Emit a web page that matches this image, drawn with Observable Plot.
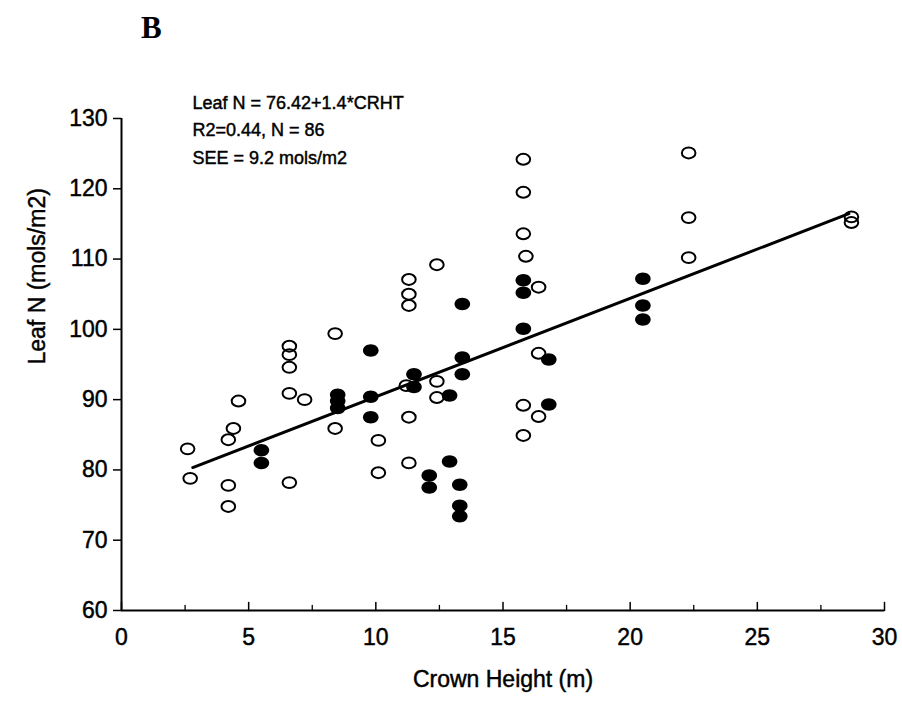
<!DOCTYPE html>
<html>
<head>
<meta charset="utf-8">
<script src="https://cdn.jsdelivr.net/npm/d3@7"></script>
<script src="https://cdn.jsdelivr.net/npm/@observablehq/plot@0.6"></script>
<style>
  html, body { margin: 0; padding: 0; background: #fff; }
  #wrap { position: relative; width: 902px; height: 702px; }
  #panel { position: absolute; left: 141px; top: 10px; font-family: "Liberation Serif", "DejaVu Serif", serif; font-weight: bold; font-size: 31px; color: #000; }
  svg { display: block; }
  svg text { stroke: #000; stroke-width: 0.45px; }
</style>
</head>
<body>
<div id="wrap">
  <div id="panel">B</div>
</div>
<script>
// Open circles: crown height (m) and leaf N (mols/m2)
const openX = [2.7, 2.6, 4.2, 4.2, 4.6, 4.4, 4.2, 6.6, 6.6, 6.6, 6.6, 6.6, 7.2, 8.4, 8.4, 10.1, 10.1,
  11.3, 11.3, 11.3, 11.2, 11.3, 11.3, 12.4, 12.4, 12.4, 15.8, 15.8, 15.8, 15.9, 16.4, 16.4, 15.8, 16.4, 15.8,
  22.3, 22.3, 22.3, 28.7, 28.7];
const openY = [78.8, 83.0, 77.8, 74.8, 89.8, 85.9, 84.3, 78.2, 97.6, 96.4, 94.6, 90.9, 90.0, 99.4, 85.9, 84.2, 79.6,
  107.1, 105.0, 103.4, 92.0, 87.5, 81.0, 109.2, 92.6, 90.3, 124.2, 119.5, 113.6, 110.4, 106.0, 96.6, 89.2, 87.6, 84.9,
  125.1, 115.9, 110.2, 116.0, 115.2];
// Solid circles
const solidX = [5.5, 5.5, 8.5, 8.5, 8.5, 9.8, 9.8, 9.8, 11.5, 11.5, 12.9, 12.9, 12.1, 12.1,
  13.4, 13.4, 13.4, 13.3, 13.3, 13.3, 15.8, 15.8, 15.8, 16.8, 16.8, 20.5, 20.5, 20.5];
const solidY = [82.8, 81.0, 90.7, 89.8, 88.8, 97.0, 90.4, 87.5, 93.6, 91.8, 90.6, 81.2, 79.2, 77.5,
  103.6, 96.0, 93.6, 77.9, 74.9, 73.4, 107.0, 105.2, 100.1, 95.7, 89.3, 107.2, 103.4, 101.4];
// Regression: Leaf N = 76.42 + 1.4 * CRHT, drawn over this crown-height range
const intercept = 76.42;
const slope = 1.4;
const fitRange = [2.8, 28.6];
const xTicks = [0, 5, 10, 15, 20, 25, 30];
const xMinorTicks = [2.5, 7.5, 12.5, 17.5, 22.5, 27.5];
const yTicks = [60, 70, 80, 90, 100, 110, 120, 130];
const annotation = ["Leaf N = 76.42+1.4*CRHT", "R2=0.44, N = 86", "SEE = 9.2 mols/m2"];
const xLabel = "Crown Height (m)";
const yLabel = "Leaf N (mols/m2)";

const openPts = openX.map((x, i) => ({x, y: openY[i]}));
const solidPts = solidX.map((x, i) => ({x, y: solidY[i]}));
const fitPts = fitRange.map(x => ({x, y: intercept + slope * x}));

const ellipse = {
  draw(ctx, size) {
    const rx = Math.sqrt(size / Math.PI), ry = rx * 0.8, k = 0.5523;
    ctx.moveTo(rx, 0);
    ctx.bezierCurveTo(rx, ry * k, rx * k, ry, 0, ry);
    ctx.bezierCurveTo(-rx * k, ry, -rx, ry * k, -rx, 0);
    ctx.bezierCurveTo(-rx, -ry * k, -rx * k, -ry, 0, -ry);
    ctx.bezierCurveTo(rx * k, -ry, rx, -ry * k, rx, 0);
    ctx.closePath();
  }
};
const tickShape = { draw(ctx, l) { ctx.moveTo(0, 0); ctx.lineTo(0, -l); } };

const chart = Plot.plot({
  width: 902,
  height: 702,
  marginLeft: 121,
  marginRight: 18,
  marginTop: 118,
  marginBottom: 92,
  style: { fontFamily: "'Liberation Sans', Arial, sans-serif", color: "#000", background: "#fff" },
  x: { domain: [0, 30] },
  y: { domain: [60, 130] },
  marks: [
    Plot.axisY({ ticks: yTicks, tickSize: 8, tickPadding: 6, fontSize: 23, strokeWidth: 1.5, label: null }),
    Plot.axisX({ ticks: xTicks, tickSize: 0, tickPadding: 18, fontSize: 23, label: null }),
    Plot.vector(xTicks, { x: d => d, frameAnchor: "bottom", anchor: "start", length: 8, shape: tickShape, stroke: "#000", strokeWidth: 1.5 }),
    Plot.vector(xMinorTicks, { x: d => d, frameAnchor: "bottom", anchor: "start", length: 5, shape: tickShape, stroke: "#000", strokeWidth: 1.3 }),
    Plot.ruleX([0], { stroke: "#000", strokeWidth: 2 }),
    Plot.ruleY([60], { stroke: "#000", strokeWidth: 2 }),
    Plot.line(fitPts, { x: "x", y: "y", stroke: "#000", strokeWidth: 3 }),
    Plot.dot(openPts, { x: "x", y: "y", symbol: ellipse, r: 6.8, fill: "none", stroke: "#000", strokeWidth: 2 }),
    Plot.dot(solidPts, { x: "x", y: "y", symbol: ellipse, r: 7.8, fill: "#000", stroke: "none" }),
    Plot.text([annotation.join("\n")], { frameAnchor: "top-left", textAnchor: "start", lineAnchor: "top", dx: 71, dy: -29, fontSize: 18, lineHeight: 1.52, fill: "#000" }),
    Plot.text([xLabel], { frameAnchor: "bottom", dy: 76, fontSize: 23, fill: "#000" }),
    Plot.text([yLabel], { frameAnchor: "left", dx: -84, rotate: -90, fontSize: 23, fill: "#000" })
  ]
});
document.getElementById("wrap").prepend(chart);
</script>
</body>
</html>
